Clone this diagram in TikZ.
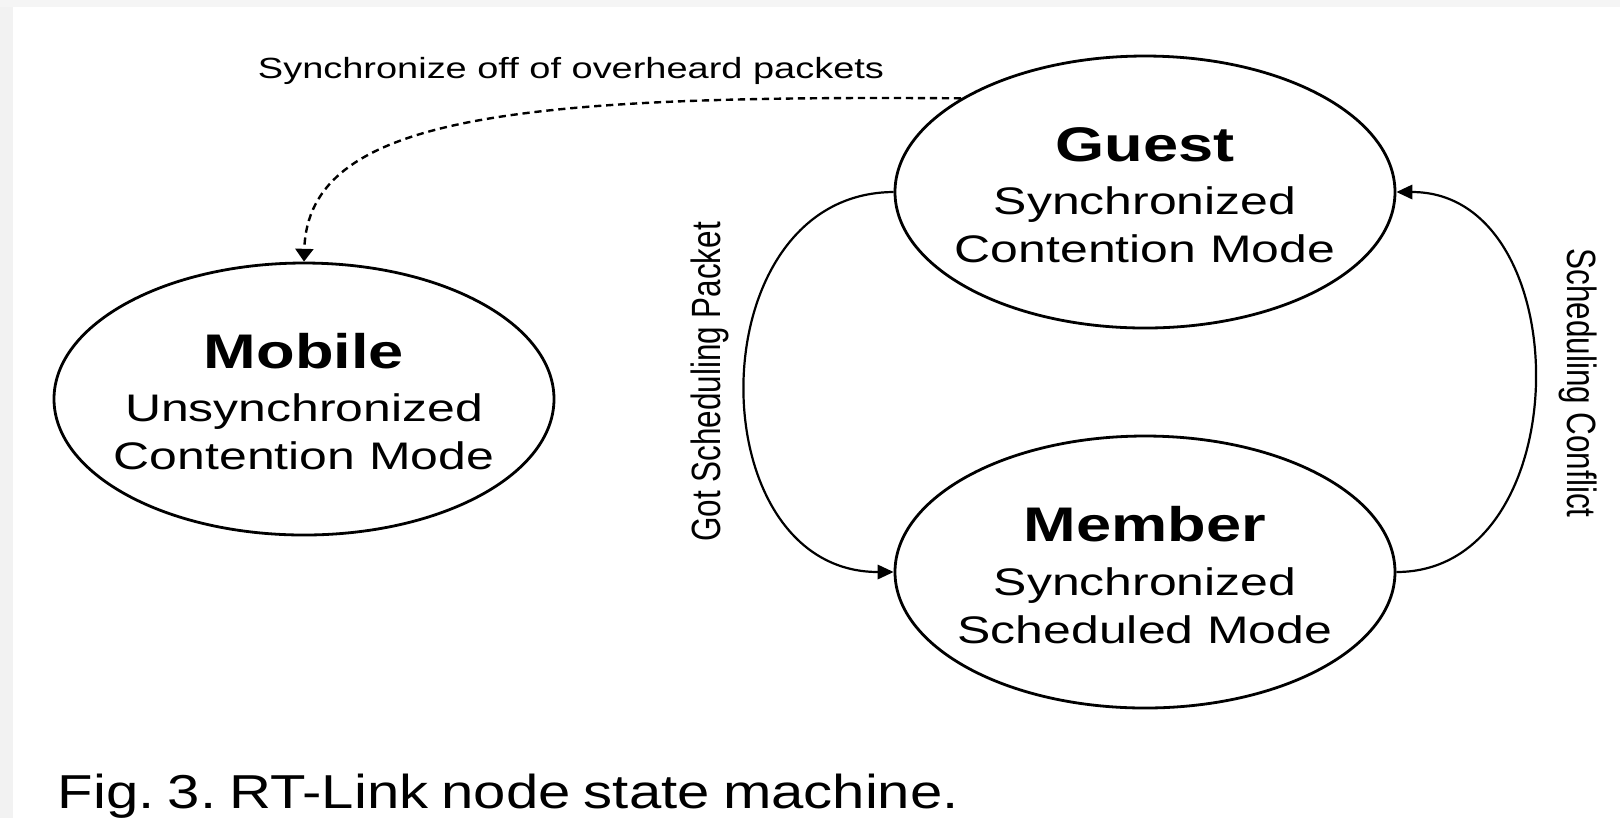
\documentclass[tikz,border=0pt]{standalone}
\usepackage{fontspec}
\setmainfont{Liberation Sans}
\newfontfamily\widesans[FakeStretch=1.3]{Liberation Sans}
\newfontfamily\captionsans[FakeStretch=1.22]{Liberation Sans}
\usetikzlibrary{shapes.geometric,arrows.meta}

\begin{document}
\begin{tikzpicture}[x=0.25pt,y=-0.25pt,
  state/.style={draw, ellipse, line width=0.7pt, inner sep=0pt,
    minimum width=125pt, minimum height=68pt, fill=white},
  statetitle/.style={anchor=base, inner sep=0pt,
    font=\widesans\bfseries\fontsize{12.15}{14}\selectfont},
  statemode/.style={anchor=base, inner sep=0pt,
    font=\widesans\fontsize{9.6}{11}\selectfont},
  edgelabel/.style={anchor=base, inner sep=0pt,
    font=\widesans\fontsize{7.3}{9}\selectfont},
  vlabel/.style={anchor=base, inner sep=0pt,
    font=\fontsize{7.86}{9}\selectfont},
  captiontext/.style={anchor=base west, inner sep=0pt,
    font=\captionsans\fontsize{11.9}{13}\selectfont},
  sideedge/.style={line width=0.55pt, -{Triangle[width=3.6pt,length=4pt]}},
  syncedge/.style={line width=0.6pt, dash pattern=on 1.8pt off 1.2pt,
    -{Triangle[width=4.5pt,length=3.2pt]}},
]
\useasboundingbox (0,0) rectangle (1620,818);
% page background with the faint scan margins
\fill[white] (0,0) rectangle (1620,818);
\fill[black!5] (0,0) rectangle (13,818);
\fill[black!4] (0,0) rectangle (1620,7);

% states
\node[state] (mobile) at (304,399) {};
\node[state] (guest)  at (1145,192) {};
\node[state] (member) at (1145,572) {};

\node[statetitle] (mobileT) at (304,368) {Mobile};
\node[statemode]  (mobileA) at (304,421) {Unsynchronized};
\node[statemode]  (mobileB) at (304,469) {Contention Mode};

\node[statetitle] (guestT) at (1145,161) {Guest};
\node[statemode]  (guestA) at (1145,214) {Synchronized};
\node[statemode]  (guestB) at (1145,262) {Contention Mode};

\node[statetitle] (memberT) at (1145,541) {Member};
\node[statemode]  (memberA) at (1145,595) {Synchronized};
\node[statemode]  (memberB) at (1145,643) {Scheduled Mode};

% transitions
\draw[syncedge] (guest.153) .. controls (520,95) and (308,115) .. (mobile.north);
\draw[sideedge] (guest.west) .. controls (696,193) and (696,572) .. (member.west);
\draw[sideedge] (member.east) .. controls (1580,572) and (1580,192) .. (guest.east);

% transition labels
\node[edgelabel] (syncLbl) at (571,78) {Synchronize off of overheard packets};
\node[vlabel, rotate=90] (gotLbl) at (720,382) {\scalebox{1}[1.3]{Got Scheduling Packet}};
\node[vlabel, rotate=-90] (confLbl) at (1567,383) {\scalebox{1}[1.3]{Scheduling Conflict}};

% caption, set with tight word spacing
\node[captiontext] (caption) at (57,808) {\frenchspacing\spaceskip=3.3pt\relax Fig. 3. RT-Link node state machine.};
\end{tikzpicture}
\end{document}
